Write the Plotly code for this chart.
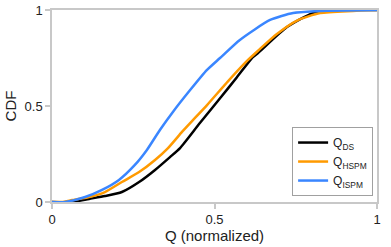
import plotly.graph_objects as go

# Q_DS (black)
ds_x = [0.0, 0.062, 0.114, 0.163, 0.215, 0.268, 0.317, 0.363, 0.394, 0.455, 0.517, 0.569, 0.618, 0.634, 0.723, 0.803, 0.895, 1.0]
ds_y = [0.0, 0.0, 0.016, 0.031, 0.052, 0.104, 0.167, 0.234, 0.281, 0.411, 0.540, 0.650, 0.755, 0.776, 0.911, 0.984, 1.0, 1.0]

# Q_HSPM (orange)
hs_x = [0.0, 0.03, 0.062, 0.114, 0.163, 0.215, 0.268, 0.317, 0.357, 0.4, 0.425, 0.477, 0.542, 0.6, 0.634, 0.692, 0.754, 0.825, 0.926, 1.0]
hs_y = [0.0, 0.0, 0.010, 0.026, 0.052, 0.104, 0.156, 0.219, 0.281, 0.365, 0.411, 0.505, 0.630, 0.735, 0.788, 0.875, 0.945, 0.984, 0.995, 1.0]

# Q_ISPM (blue)
is_x = [0.0, 0.04, 0.102, 0.154, 0.206, 0.255, 0.292, 0.332, 0.372, 0.425, 0.477, 0.517, 0.578, 0.671, 0.742, 0.825, 1.0]
is_y = [0.0, 0.0, 0.026, 0.063, 0.115, 0.193, 0.271, 0.375, 0.469, 0.583, 0.688, 0.750, 0.844, 0.948, 0.984, 0.995, 1.0]

names = ["Q<sub>DS</sub>", "Q<sub>HSPM</sub>", "Q<sub>ISPM</sub>"]
colors = ["#000000", "#ff9a00", "#3a86ff"]

fig = go.Figure()
for (x, y), name, c in zip([(ds_x, ds_y), (hs_x, hs_y), (is_x, is_y)], names, colors):
    fig.add_trace(go.Scatter(x=x, y=y, mode="lines", name=name,
                             line=dict(color=c, width=2.5, shape="spline", smoothing=0.6)))

axis_common = dict(showgrid=False, zeroline=False, showline=True, linecolor="#c8c8c8",
                   linewidth=1.5, mirror=True, ticks="outside", ticklen=5, tickcolor="#c8c8c8",
                   tickwidth=1.5, tickfont=dict(size=13, color="#222"), range=[0, 1],
                   tickvals=[0, 0.5, 1], ticktext=["0", "0.5", "1"], automargin=False)

fig.update_layout(
    width=391, height=247,
    margin=dict(l=52, r=14, t=10, b=45, autoexpand=False),
    paper_bgcolor="white", plot_bgcolor="white",
    font=dict(family="Liberation Sans, Arial, sans-serif", color="#222"),
    xaxis=dict(**axis_common, title=dict(text="Q (normalized)", font=dict(size=15), standoff=2)),
    yaxis=dict(**axis_common, title=dict(text="CDF", font=dict(size=15), standoff=4)),
    legend=dict(x=0.988, y=0.031, xanchor="right", yanchor="bottom",
                bgcolor="white", bordercolor="#a0a0a0", borderwidth=1,
                font=dict(size=12), tracegroupgap=0, itemwidth=30),
    showlegend=True,
)

fig.write_html("out.html", config={"displayModeBar": False},
               post_script="document.body.style.margin='0';document.body.style.padding='0';document.body.style.overflow='hidden';")
